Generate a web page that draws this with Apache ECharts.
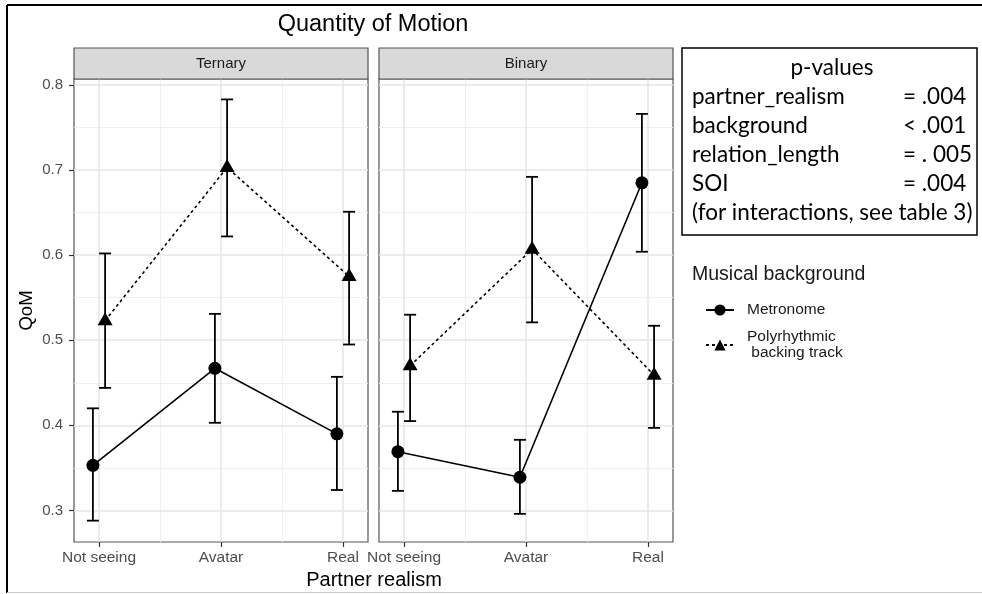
<!DOCTYPE html>
<html><head><meta charset="utf-8">
<script src="https://cdn.jsdelivr.net/npm/echarts@6/dist/echarts.min.js"></script>
<style>html,body{margin:0;padding:0;background:#fff}#c{width:982px;height:594px}</style>
</head><body><div id="c"></div>
<script>
// ---- data ----
const categories = ['Not seeing', 'Avatar', 'Real'];
const panels = ['Ternary', 'Binary'];
const seriesNames = ['Metronome', 'Polyrhythmic\n backing track'];

const ternaryMetronome     = [0.353, 0.467, 0.390];
const ternaryMetronomeLow  = [0.288, 0.403, 0.324];
const ternaryMetronomeHigh = [0.420, 0.531, 0.457];
const ternaryPoly          = [0.523, 0.703, 0.575];
const ternaryPolyLow       = [0.444, 0.622, 0.495];
const ternaryPolyHigh      = [0.602, 0.783, 0.651];

const binaryMetronome      = [0.369, 0.339, 0.685];
const binaryMetronomeLow   = [0.323, 0.296, 0.604];
const binaryMetronomeHigh  = [0.416, 0.383, 0.766];
const binaryPoly           = [0.470, 0.607, 0.459];
const binaryPolyLow        = [0.405, 0.521, 0.397];
const binaryPolyHigh       = [0.530, 0.692, 0.517];

const yTicks = [0.3, 0.4, 0.5, 0.6, 0.7, 0.8];
const yMinorTicks = [0.35, 0.45, 0.55, 0.65, 0.75];
const xMinorTicks = [1.5, 2.5];

const pValueLabels = ['partner_realism', 'background', 'relation_length', 'SOI'];
const pValues = ['= .004', '< .001', '= . 005', '= .004'];
const pValueNote = '(for interactions, see table 3)';

// ---- build ----
const FONT = 'Liberation Sans, Arial, sans-serif';
const BOXFONT = 'Lato, sans-serif';
const DODGE = 0.05;
const panelData = [
  {m: ternaryMetronome, mLo: ternaryMetronomeLow, mHi: ternaryMetronomeHigh,
   p: ternaryPoly, pLo: ternaryPolyLow, pHi: ternaryPolyHigh},
  {m: binaryMetronome, mLo: binaryMetronomeLow, mHi: binaryMetronomeHigh,
   p: binaryPoly, pLo: binaryPolyLow, pHi: binaryPolyHigh}
];
const gridLefts = [74, 379];
const GRID_TOP = 79, GRID_H = 463, GRID_W = 294;

const grids = [], xAxes = [], yAxes = [], series = [], graphics = [];
const xTickVals = categories.map((c, i) => i + 1);

panels.forEach((pn, g) => {
  grids.push({left: gridLefts[g], top: GRID_TOP, width: GRID_W, height: GRID_H,
    show: true, borderColor: '#555', borderWidth: 1.2, backgroundColor: '#fff'});
  xAxes.push({type: 'value', gridIndex: g, min: 0.795, max: 3.205,
    axisLine: {show: false},
    axisTick: {show: true, length: 5, customValues: xTickVals, lineStyle: {color: '#333', width: 1.2}},
    axisLabel: {customValues: xTickVals, formatter: v => categories[Math.round(v) - 1] || '',
      margin: 8, color: '#4d4d4d', fontSize: 15.5, fontFamily: FONT},
    splitLine: {show: false}});
  yAxes.push({type: 'value', gridIndex: g, min: 0.2629, max: 0.807,
    axisLine: {show: false},
    axisTick: {show: g === 0, length: 5, customValues: yTicks, lineStyle: {color: '#333', width: 1.2}},
    axisLabel: {show: g === 0, customValues: yTicks, formatter: v => v.toFixed(1),
      margin: 11, color: '#4d4d4d', fontSize: 15, fontFamily: FONT},
    splitLine: {show: false},
    name: g === 0 ? 'QoM' : '', nameLocation: 'middle', nameRotate: 90, nameGap: 38,
    nameTextStyle: {fontSize: 18.5, color: '#000', fontFamily: FONT}});

  // grid lines
  const major = {color: '#e6e6e6', width: 1.5, type: 'solid'};
  const minor = {color: '#f0f0f0', width: 1, type: 'solid'};
  const mlData = []
    .concat(yMinorTicks.map(v => ({yAxis: v, lineStyle: minor})))
    .concat(xMinorTicks.map(v => ({xAxis: v, lineStyle: minor})))
    .concat(yTicks.map(v => ({yAxis: v, lineStyle: major})))
    .concat(xTickVals.map(v => ({xAxis: v, lineStyle: major})));
  series.push({type: 'line', name: '_grid' + g, xAxisIndex: g, yAxisIndex: g, data: [],
    silent: true, showSymbol: false,
    markLine: {silent: true, symbol: 'none', z: 1, label: {show: false}, animation: false,
      emphasis: {disabled: true}, data: mlData}});

  const d = panelData[g];
  // error bars
  const errSeries = (vals, lo, hi, off) => ({
    type: 'custom', xAxisIndex: g, yAxisIndex: g, z: 3, silent: true,
    data: vals.map((v, i) => [i + 1 + off, lo[i], hi[i]]),
    encode: {x: 0, y: [1, 2]},
    renderItem(params, api) {
      const x = api.value(0);
      const a = api.coord([x, api.value(1)]);
      const b = api.coord([x, api.value(2)]);
      const hw = 6;
      const st = {stroke: '#000', lineWidth: 1.8};
      return {type: 'group', children: [
        {type: 'line', shape: {x1: a[0], y1: a[1], x2: b[0], y2: b[1]}, style: st},
        {type: 'line', shape: {x1: a[0] - hw, y1: a[1], x2: a[0] + hw, y2: a[1]}, style: st},
        {type: 'line', shape: {x1: b[0] - hw, y1: b[1], x2: b[0] + hw, y2: b[1]}, style: st}
      ]};
    }
  });
  series.push(errSeries(d.m, d.mLo, d.mHi, -DODGE));
  series.push(errSeries(d.p, d.pLo, d.pHi, DODGE));
  series.push({type: 'line', name: seriesNames[0], xAxisIndex: g, yAxisIndex: g, z: 4,
    data: d.m.map((v, i) => [i + 1 - DODGE, v]),
    symbol: 'circle', symbolSize: 13, showSymbol: true,
    itemStyle: {color: '#000'}, lineStyle: {color: '#000', width: 1.6, type: 'solid'},
    animation: false, emphasis: {disabled: true}});
  series.push({type: 'line', name: seriesNames[1], xAxisIndex: g, yAxisIndex: g, z: 4,
    data: d.p.map((v, i) => [i + 1 + DODGE, v]),
    symbol: 'triangle', symbolSize: [15, 13], symbolOffset: [0, -2], showSymbol: true,
    itemStyle: {color: '#000'}, lineStyle: {color: '#000', width: 1.6, type: [3, 3]},
    animation: false, emphasis: {disabled: true}});

  // strip
  graphics.push({type: 'rect', shape: {x: gridLefts[g], y: 48, width: GRID_W, height: 31},
    style: {fill: '#d9d9d9', stroke: '#555', lineWidth: 1.2}, z: 10});
  graphics.push({type: 'text', x: gridLefts[g] + GRID_W / 2, y: 63.5, z: 11,
    style: {text: pn, fill: '#1a1a1a', font: '15px ' + FONT, textAlign: 'center', textVerticalAlign: 'middle'}});
});

// title, x-axis title
graphics.push({type: 'text', x: 373, y: 25, z: 11,
  style: {text: 'Quantity of Motion', fill: '#000', font: '23.5px ' + FONT, textAlign: 'center', textVerticalAlign: 'middle'}});
graphics.push({type: 'text', x: 374, y: 580, z: 11,
  style: {text: 'Partner realism', fill: '#000', font: '20px ' + FONT, textAlign: 'center', textVerticalAlign: 'middle'}});

// p-values box
graphics.push({type: 'rect', shape: {x: 682, y: 48, width: 295, height: 187},
  style: {fill: '#fff', stroke: '#000', lineWidth: 1.5}, z: 10});
graphics.push({type: 'text', x: 832, y: 68, z: 11,
  style: {text: 'p-values', fill: '#000', font: '22.5px ' + BOXFONT, textAlign: 'center', textVerticalAlign: 'middle'}});
pValueLabels.forEach((t, i) => {
  graphics.push({type: 'text', x: 692, y: 97 + i * 29, z: 11,
    style: {text: t, fill: '#000', font: '22.5px ' + BOXFONT, textAlign: 'left', textVerticalAlign: 'middle'}});
  graphics.push({type: 'text', x: 903, y: 97 + i * 29, z: 11,
    style: {text: pValues[i], fill: '#000', font: '22.5px ' + BOXFONT, textAlign: 'left', textVerticalAlign: 'middle'}});
});
graphics.push({type: 'text', x: 692, y: 213, z: 11,
  style: {text: pValueNote, fill: '#000', font: '22.5px ' + BOXFONT, textAlign: 'left', textVerticalAlign: 'middle'}});

// legend title
graphics.push({type: 'text', x: 692, y: 275, z: 11,
  style: {text: 'Musical background', fill: '#1a1a1a', font: '19.5px ' + FONT, textAlign: 'left', textVerticalAlign: 'middle'}});

// outer frame
graphics.push({type: 'line', shape: {x1: 7, y1: 5, x2: 982, y2: 5}, style: {stroke: '#000', lineWidth: 2}, z: 12});
graphics.push({type: 'line', shape: {x1: 7, y1: 5, x2: 7, y2: 593}, style: {stroke: '#000', lineWidth: 2}, z: 12});
graphics.push({type: 'line', shape: {x1: 7, y1: 592.5, x2: 982, y2: 592.5}, style: {stroke: '#c8c8c8', lineWidth: 1}, z: 12});

const chart = echarts.init(document.getElementById('c'), null, {renderer: 'canvas'});
chart.setOption({
  animation: false,
  backgroundColor: '#fff',
  grid: grids, xAxis: xAxes, yAxis: yAxes, series: series,
  legend: {data: seriesNames, orient: 'vertical', left: 700, top: 297,
    itemWidth: 28, itemHeight: 14, itemGap: 11, selectedMode: false,
    textStyle: {fontSize: 15.5, color: '#1a1a1a', fontFamily: FONT, lineHeight: 16, padding: [0, 0, 0, 8]}},
  graphic: graphics
});
</script></body></html>
